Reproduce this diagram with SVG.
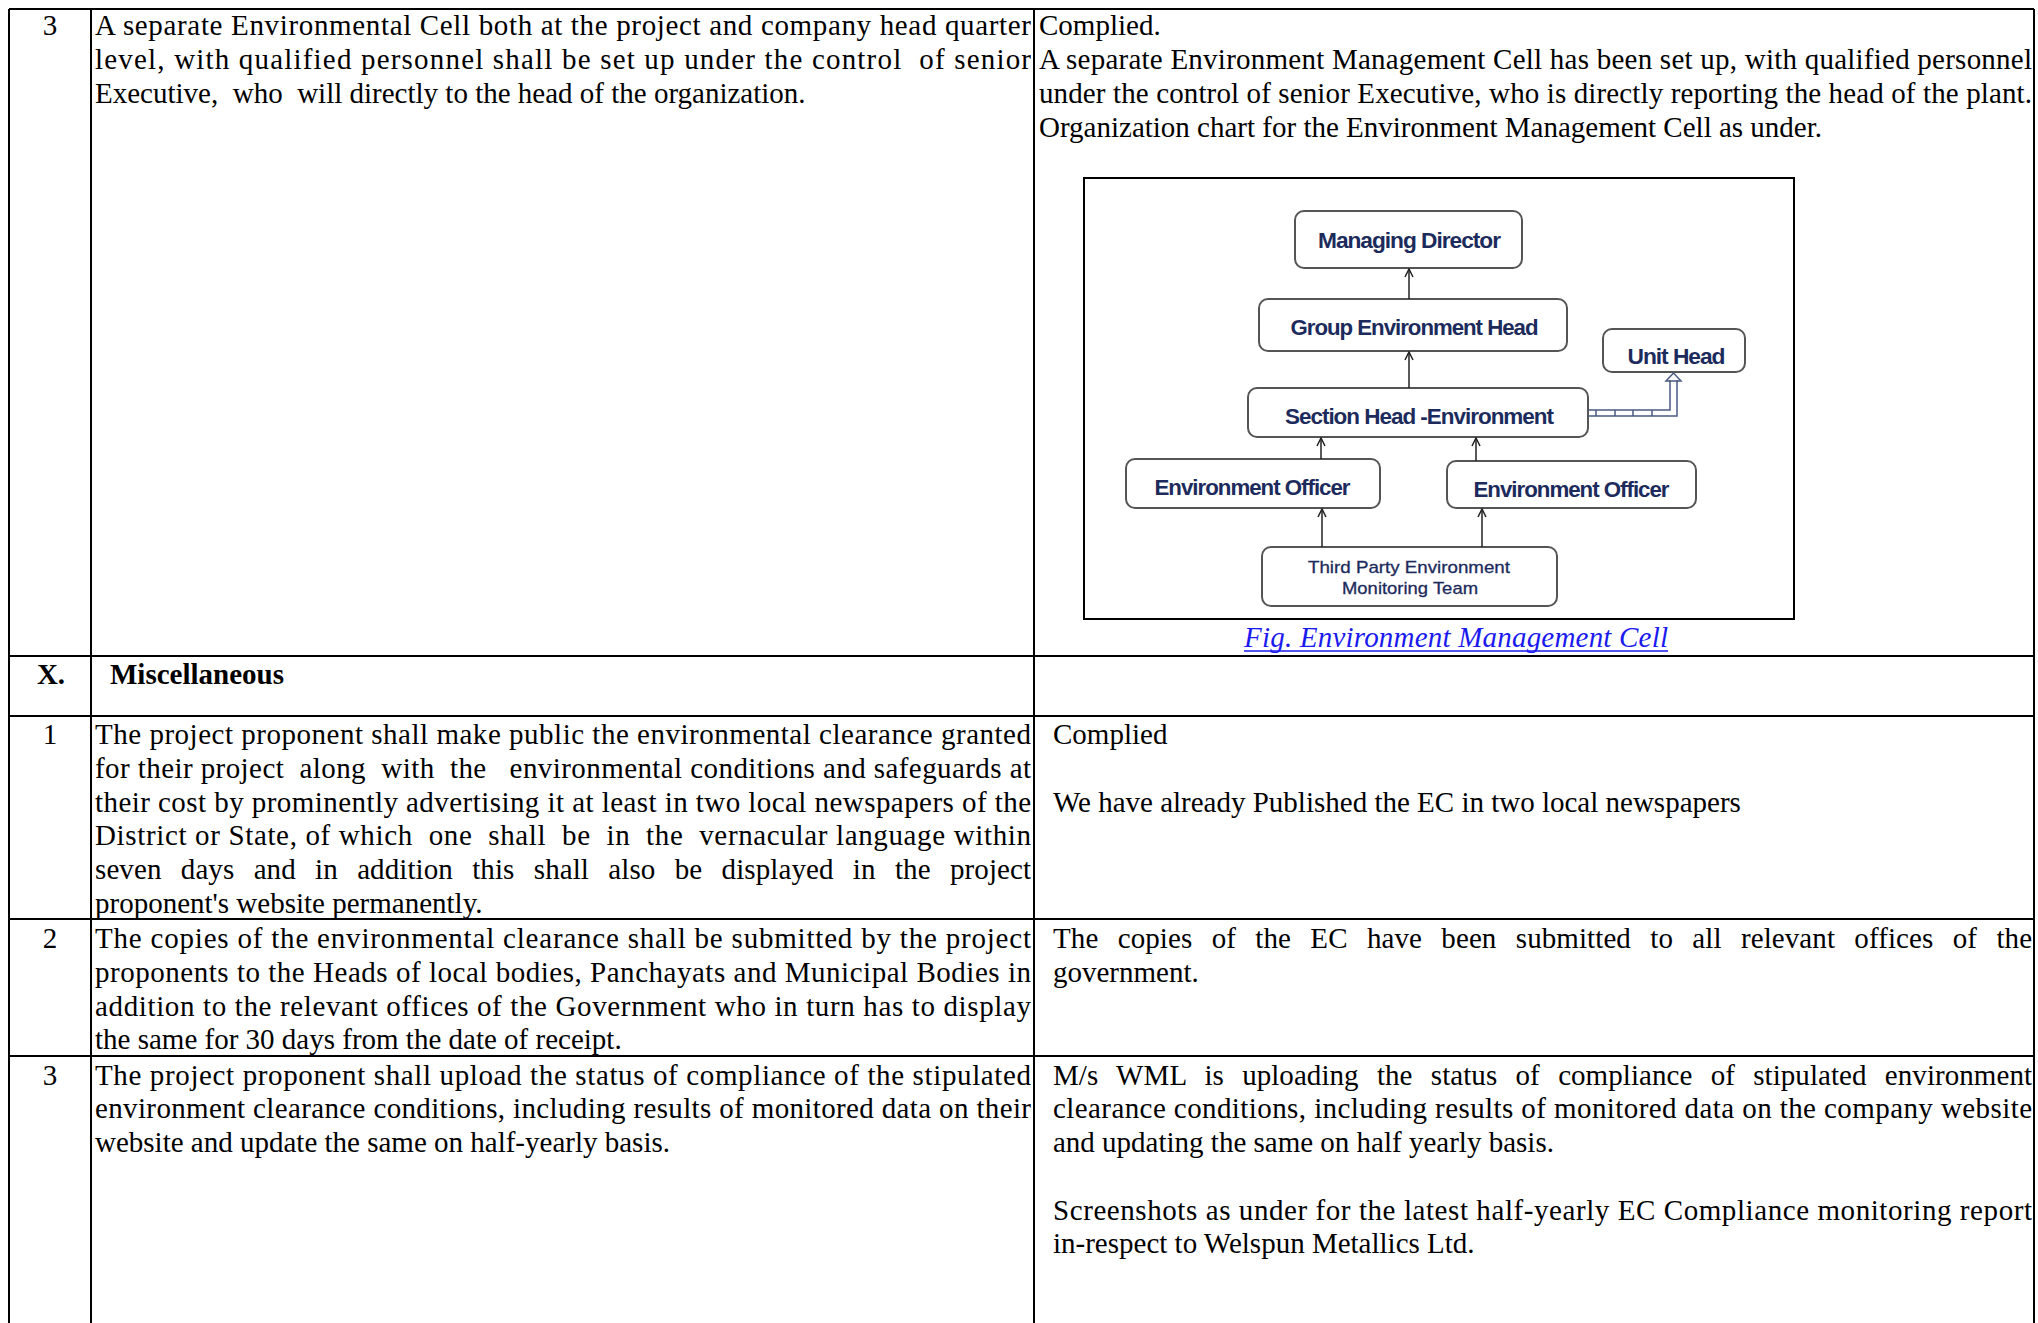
<svg xmlns="http://www.w3.org/2000/svg" width="2038" height="1323" viewBox="0 0 2038 1323">
<style>
.t{font-family:"Liberation Serif","Times New Roman",serif;font-size:29px;fill:#000;white-space:pre}
.b{font-weight:bold}
.cap{font-style:italic;fill:#1a1af0}
.ln{stroke:#000;stroke-width:2;fill:none}
.node rect{fill:#fff;stroke:#555;stroke-width:2}
.nt{font-family:"Liberation Sans",Arial,sans-serif;font-weight:bold;font-size:22px;fill:#1c2b5c;text-anchor:middle;letter-spacing:-1px}
.ntr{font-family:"Liberation Sans",Arial,sans-serif;font-size:17px;fill:#1c2b5c;text-anchor:middle;stroke:#1c2b5c;stroke-width:0.3}
.cn{stroke:#222;stroke-width:1.5;fill:none}
.pipe{stroke:#4a5a80;stroke-width:1.5;fill:none}
</style>
<defs>
<marker id="ah" viewBox="0 0 10 10" refX="9" refY="5" markerWidth="10" markerHeight="10" markerUnits="userSpaceOnUse" orient="auto"><path d="M1,1 L9,5 L1,9" fill="none" stroke="#222" stroke-width="1.5"/></marker>
</defs>
<rect width="2038" height="1323" fill="#fff"/>
<g id="table">
<path class="ln" d="M9,9 H2034 M9,656 H2034 M9,716 H2034 M9,919 H2034 M9,1056 H2034 M9,9 V1323 M91,9 V1323 M1034,9 V1323 M2034,9 V1323"/>
</g>
<g id="row-ix3">
<text class="t" x="50" y="35" text-anchor="middle">3</text>
<text class="t" x="95" y="35" textLength="936" lengthAdjust="spacing">A separate Environmental Cell both at the project and company head quarter</text>
<text class="t" x="95" y="69" textLength="936" lengthAdjust="spacing">level, with qualified personnel shall be set up under the control  of senior</text>
<text class="t" x="95" y="103">Executive,  who  will directly to the head of the organization.</text>
<text class="t" x="1039" y="35">Complied.</text>
<text class="t" x="1039" y="69" textLength="993" lengthAdjust="spacing">A separate Environment Management Cell has been set up, with qualified personnel</text>
<text class="t" x="1039" y="103" textLength="993" lengthAdjust="spacing">under the control of senior Executive, who is directly reporting the head of the plant.</text>
<text class="t" x="1039" y="137">Organization chart for the Environment Management Cell as under.</text>
</g>
<g id="figure">
<rect x="1084" y="178" width="710" height="441" fill="#fff" stroke="#000" stroke-width="2"/>
<g id="n-md" class="node"><rect x="1295" y="211" width="227" height="57" rx="9"/><text class="nt" x="1409" y="248" textLength="182" lengthAdjust="spacingAndGlyphs">Managing Director</text></g>
<g id="n-geh" class="node"><rect x="1259" y="299" width="308" height="52" rx="9"/><text class="nt" x="1414" y="335" textLength="247" lengthAdjust="spacingAndGlyphs">Group Environment Head</text></g>
<g id="n-uh" class="node"><rect x="1603" y="329" width="142" height="43" rx="9"/><text class="nt" x="1676" y="364" textLength="97" lengthAdjust="spacingAndGlyphs">Unit Head</text></g>
<g id="n-sh" class="node"><rect x="1248" y="388" width="340" height="49" rx="9"/><text class="nt" x="1419" y="424" textLength="268" lengthAdjust="spacingAndGlyphs">Section Head -Environment</text></g>
<g id="n-eo1" class="node"><rect x="1126" y="459" width="254" height="49" rx="9"/><text class="nt" x="1252" y="495" textLength="195" lengthAdjust="spacingAndGlyphs">Environment Officer</text></g>
<g id="n-eo2" class="node"><rect x="1447" y="461" width="249" height="47" rx="9"/><text class="nt" x="1571" y="497" textLength="195" lengthAdjust="spacingAndGlyphs">Environment Officer</text></g>
<g id="n-tp" class="node"><rect x="1262" y="547" width="295" height="59" rx="9"/><text class="ntr" x="1409" y="573" textLength="202" lengthAdjust="spacingAndGlyphs">Third Party Environment</text><text class="ntr" x="1410" y="594" textLength="136" lengthAdjust="spacingAndGlyphs">Monitoring Team</text></g>
<g id="connectors">
<line class="cn" x1="1409" y1="299" x2="1409" y2="269" marker-end="url(#ah)"/>
<line class="cn" x1="1409" y1="388" x2="1409" y2="352" marker-end="url(#ah)"/>
<line class="cn" x1="1321" y1="459" x2="1321" y2="438" marker-end="url(#ah)"/>
<line class="cn" x1="1476" y1="461" x2="1476" y2="438" marker-end="url(#ah)"/>
<line class="cn" x1="1322" y1="547" x2="1322" y2="509" marker-end="url(#ah)"/>
<line class="cn" x1="1482" y1="547" x2="1482" y2="509" marker-end="url(#ah)"/>
<path class="pipe" d="M1588,410 H1670 V380 M1588,416 H1677 V380 M1596,410 V416 M1615,410 V416 M1633,410 V416 M1652,410 V416"/>
<polygon class="pipe" fill="#fff" points="1666,381 1673.5,373 1681,381"/>
</g>
<text class="t cap" x="1244" y="647" textLength="424" lengthAdjust="spacing">Fig. Environment Management Cell</text>
<line x1="1244" y1="651" x2="1668" y2="651" stroke="#1a1af0" stroke-width="1.5"/>
</g>
<g id="row-x">
<text class="t b" x="51" y="684" text-anchor="middle">X.</text>
<text class="t b" x="110" y="684">Miscellaneous</text>
</g>
<g id="row-x1">
<text class="t" x="50" y="744" text-anchor="middle">1</text>
<text class="t" x="95" y="744" textLength="936" lengthAdjust="spacing">The project proponent shall make public the environmental clearance granted</text>
<text class="t" x="95" y="778" textLength="936" lengthAdjust="spacing">for their project  along  with  the   environmental conditions and safeguards at</text>
<text class="t" x="95" y="812" textLength="936" lengthAdjust="spacing">their cost by prominently advertising it at least in two local newspapers of the</text>
<text class="t" x="95" y="845" textLength="936" lengthAdjust="spacing">District or State, of which  one  shall  be  in  the  vernacular language within</text>
<text class="t" x="95" y="879" textLength="936" lengthAdjust="spacing" word-spacing="12">seven days and in addition this shall also be displayed in the project</text>
<text class="t" x="95" y="913">proponent's website permanently.</text>
<text class="t" x="1053" y="744">Complied</text>
<text class="t" x="1053" y="812">We have already Published the EC in two local newspapers</text>
</g>
<g id="row-x2">
<text class="t" x="50" y="948" text-anchor="middle">2</text>
<text class="t" x="95" y="948" textLength="936" lengthAdjust="spacing">The copies of the environmental clearance shall be submitted by the project</text>
<text class="t" x="95" y="982" textLength="936" lengthAdjust="spacing">proponents to the Heads of local bodies, Panchayats and Municipal Bodies in</text>
<text class="t" x="95" y="1016" textLength="936" lengthAdjust="spacing">addition to the relevant offices of the Government who in turn has to display</text>
<text class="t" x="95" y="1049">the same for 30 days from the date of receipt.</text>
<text class="t" x="1053" y="948" textLength="979" lengthAdjust="spacing" word-spacing="12">The copies of the EC have been submitted to all relevant offices of the</text>
<text class="t" x="1053" y="982">government.</text>
</g>
<g id="row-x3">
<text class="t" x="50" y="1085" text-anchor="middle">3</text>
<text class="t" x="95" y="1085" textLength="936" lengthAdjust="spacing">The project proponent shall upload the status of compliance of the stipulated</text>
<text class="t" x="95" y="1118" textLength="936" lengthAdjust="spacing">environment clearance conditions, including results of monitored data on their</text>
<text class="t" x="95" y="1152">website and update the same on half-yearly basis.</text>
<text class="t" x="1053" y="1085" textLength="979" lengthAdjust="spacing" word-spacing="11">M/s WML is uploading the status of compliance of stipulated environment</text>
<text class="t" x="1053" y="1118" textLength="979" lengthAdjust="spacing">clearance conditions, including results of monitored data on the company website</text>
<text class="t" x="1053" y="1152">and updating the same on half yearly basis.</text>
<text class="t" x="1053" y="1220" textLength="979" lengthAdjust="spacing">Screenshots as under for the latest half-yearly EC Compliance monitoring report</text>
<text class="t" x="1053" y="1253">in-respect to Welspun Metallics Ltd.</text>
</g>
</svg>
